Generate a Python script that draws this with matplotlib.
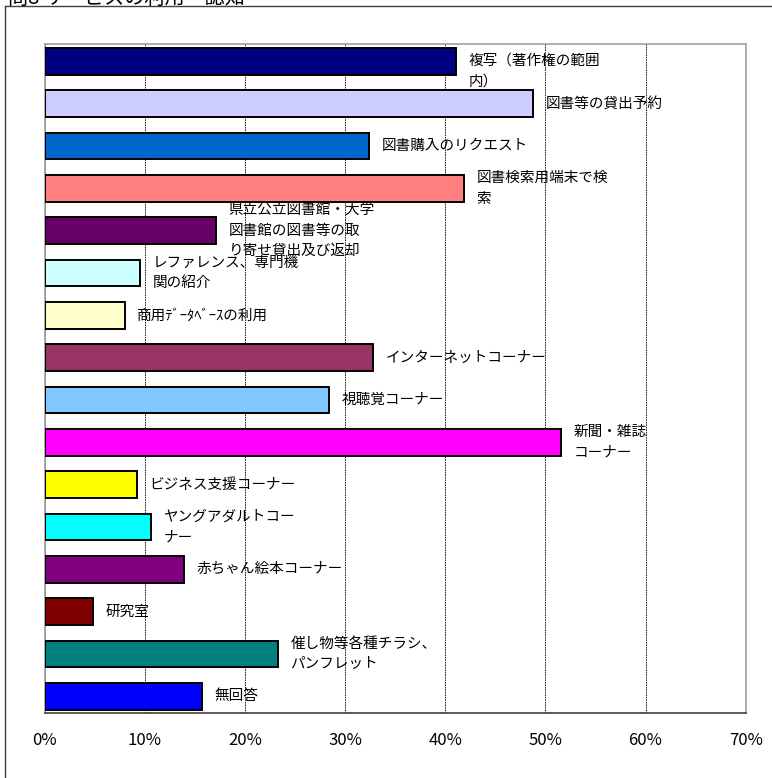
import matplotlib
matplotlib.use("Agg")
import matplotlib.pyplot as plt
from matplotlib.lines import Line2D
from matplotlib.ticker import FuncFormatter

plt.rcParams['font.family'] = ['Noto Sans CJK JP', 'DejaVu Sans']

# --- data -------------------------------------------------------------
categories = [
    "複写（著作権の範囲\n内）",
    "図書等の貸出予約",
    "図書購入のリクエスト",
    "図書検索用端末で検\n索",
    "県立公立図書館・大学\n図書館の図書等の取\nり寄せ貸出及び返却",
    "レファレンス、専門機\n関の紹介",
    "商用ﾃﾞｰﾀﾍﾞｰｽの利用",
    "インターネットコーナー",
    "視聴覚コーナー",
    "新聞・雑誌\nコーナー",
    "ビジネス支援コーナー",
    "ヤングアダルトコー\nナー",
    "赤ちゃん絵本コーナー",
    "研究室",
    "催し物等各種チラシ、\nパンフレット",
    "無回答",
]
values = [41.1, 48.8, 32.4, 41.9, 17.1, 9.5, 8.0, 32.8,
          28.4, 51.6, 9.2, 10.6, 13.9, 4.8, 23.3, 15.7]
bar_colors = ["#000080", "#CCCCFF", "#0066CC", "#FF8080", "#660066", "#CCFFFF",
              "#FFFFCC", "#993366", "#80C8FF", "#FF00FF", "#FFFF00", "#00FFFF",
              "#800080", "#800000", "#008080", "#0000FF"]
x_ticks = [0, 10, 20, 30, 40, 50, 60, 70]
title = "問8 サービスの利用・認知"

# --- figure -----------------------------------------------------------
W, H = 772, 778
fig = plt.figure(figsize=(W / 100, H / 100), dpi=100)
fig.patch.set_facecolor("white")

# outer frame (left and top edges visible)
fig.add_artist(Line2D([5 / W, 5 / W], [0, 1 - 6 / H], transform=fig.transFigure,
                      color="#404040", lw=1.0))
fig.add_artist(Line2D([5 / W, 771 / W], [1 - 6 / H, 1 - 6 / H], transform=fig.transFigure,
                      color="#404040", lw=1.0))
fig.text(8 / W, 1 - 4 / H, title, fontsize=14.5, ha="left", va="baseline", color="black")

left, right = 44.7 / W, 745.7 / W
top, bottom = 1 - 44.3 / H, 1 - 712.7 / H
ax = fig.add_axes([left, bottom, right - left, top - bottom])

y = list(range(len(categories)))
ax.barh(y, values, height=0.63, color=bar_colors, edgecolor="black", linewidth=1.4, zorder=3)

ax.set_xlim(0, 70)
ax.set_ylim(15.39, -0.40)
ax.set_xticks(x_ticks)
ax.xaxis.set_major_formatter(FuncFormatter(lambda v, p: f"{v:.0f}%"))
ax.set_yticks([])
ax.tick_params(axis="x", length=0, pad=14, labelsize=12)

ax.grid(axis="x", color="black", linestyle=(0, (2, 1)), linewidth=0.6, zorder=1)
for side in ("top", "right", "left"):
    ax.spines[side].set_color("#a0a0a0")
    ax.spines[side].set_linewidth(1.2)
ax.spines["bottom"].set_color("#404040")
ax.spines["bottom"].set_linewidth(1.2)

# category names written next to each bar
for i, (name, v) in enumerate(zip(categories, values)):
    yy = i + (0.24 if i == 0 else 0.0)
    ax.annotate(name, xy=(v, yy), xytext=(9, 0), textcoords="offset points",
                ha="left", va="center", fontsize=10.5, linespacing=1.6,
                color="black", zorder=4, annotation_clip=False)

fig.savefig("out.png", dpi=100, facecolor="white")
